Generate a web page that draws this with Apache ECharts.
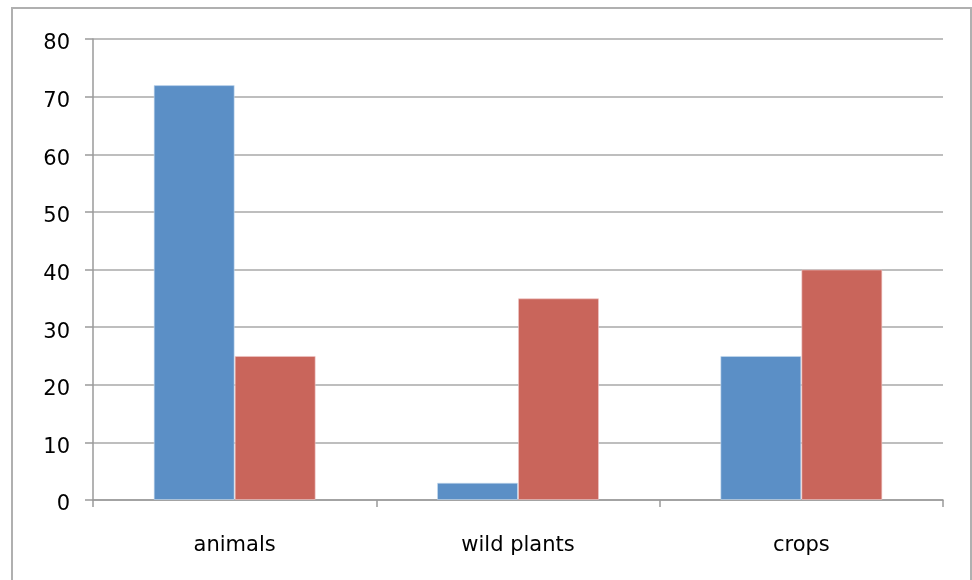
<!DOCTYPE html>
<html>
<head>
<meta charset="utf-8">
<script src="https://cdn.jsdelivr.net/npm/echarts@6/dist/echarts.min.js"></script>
<style>
  html, body { margin: 0; padding: 0; background: #fff; }
  #main { width: 972px; height: 580px; }
</style>
</head>
<body>
<div id="main"></div>
<script>
// 数据
const categories = ['animals', 'wild plants', 'crops']
const blueValues = [72, 3, 25]
const redValues = [25, 35, 40]
const yTicks = [0, 10, 20, 30, 40, 50, 60, 70, 80]

const myChart = echarts.init(document.getElementById('main'))

const labelFont = {
  fontFamily: 'DejaVu Sans',
  fontSize: 21,
  color: '#000'
}

const option = {
  animation: false,
  backgroundColor: '#fff',
  graphic: [
    { // 外框
      type: 'rect',
      shape: { x: 12, y: 8, width: 959, height: 590 },
      style: { fill: 'none', stroke: '#b0b0b0', lineWidth: 2 },
      silent: true
    }
  ],
  grid: {
    left: 93,
    right: 29,
    top: 39,
    bottom: 80
  },
  xAxis: {
    type: 'category',
    data: categories,
    boundaryGap: true,
    axisLine: { lineStyle: { color: '#9a9a9a', width: 1.5 } },
    axisTick: { show: true, length: 7, lineStyle: { color: '#9a9a9a', width: 1.5 } },
    axisLabel: Object.assign({ margin: 35 }, labelFont)
  },
  yAxis: {
    type: 'value',
    min: yTicks[0],
    max: yTicks[yTicks.length - 1],
    interval: 10,
    axisLine: { show: true, lineStyle: { color: '#9a9a9a', width: 1.5 } },
    axisTick: { show: true, length: 8, lineStyle: { color: '#9a9a9a', width: 1.5 } },
    splitLine: { lineStyle: { color: '#a8a8a8', width: 1.5 } },
    axisLabel: {
      margin: 23,
      formatter: '{t|{value}}',
      rich: {
        t: Object.assign({ padding: [10, 0, 0, 0] }, labelFont)
      }
    }
  },
  series: [
    {
      type: 'bar',
      data: blueValues,
      barWidth: 81,
      barGap: '0%',
      itemStyle: { color: '#5b8fc6', borderColor: 'rgba(200,220,240,0.6)', borderWidth: 1 }
    },
    {
      type: 'bar',
      data: redValues,
      barWidth: 81,
      barGap: '0%',
      itemStyle: { color: '#c9655b', borderColor: 'rgba(240,200,200,0.6)', borderWidth: 1 }
    }
  ]
}

myChart.setOption(option)
window.onresize = () => myChart.resize()
</script>
</body>
</html>
